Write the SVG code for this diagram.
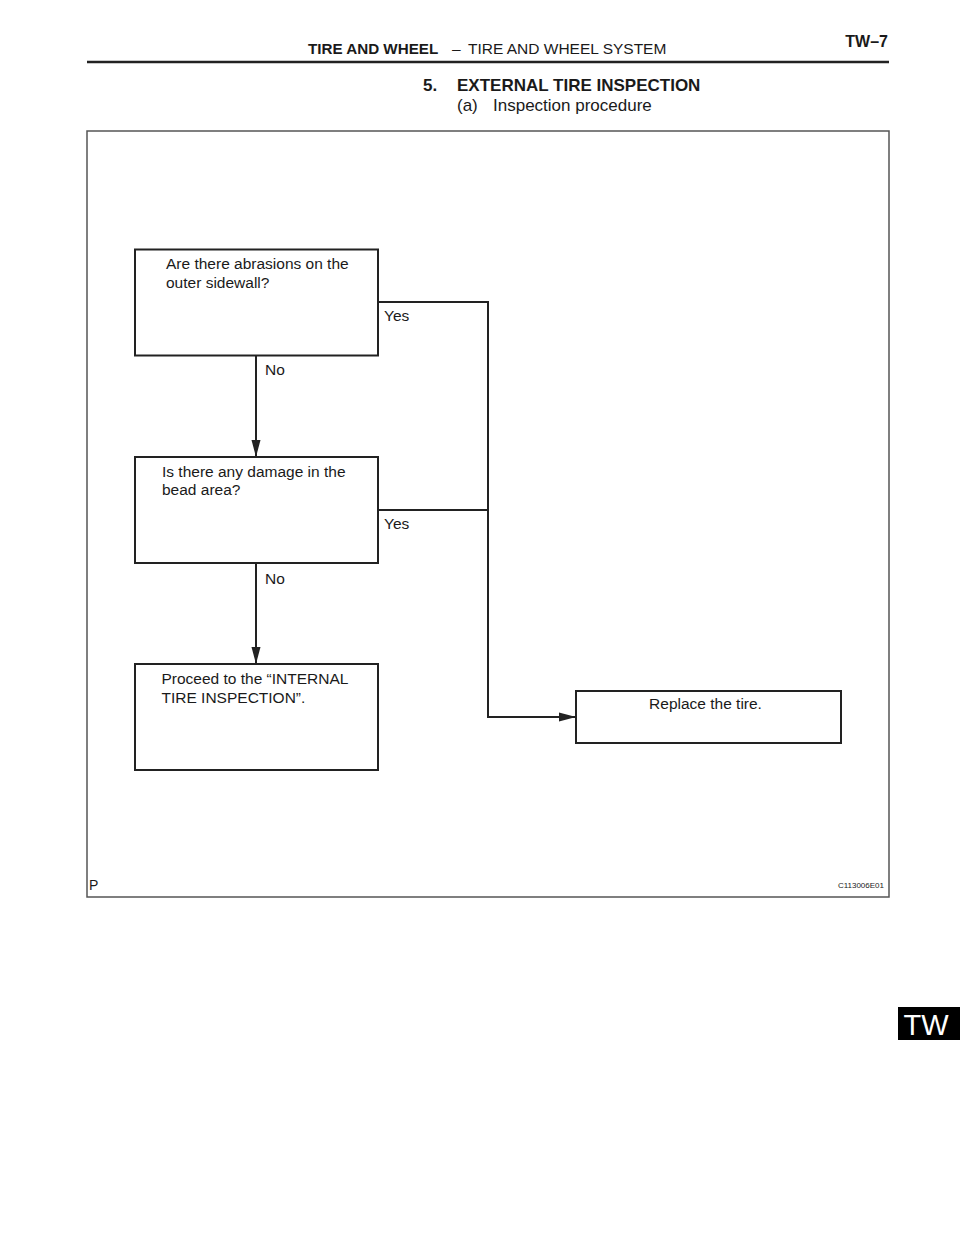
<svg xmlns="http://www.w3.org/2000/svg" width="960" height="1242" viewBox="0 0 960 1242">
<style>
.t{font-family:"Liberation Sans",Arial,sans-serif;fill:#1a1a1a}
.b{font-weight:bold}
.box{fill:#fff;stroke:#222;stroke-width:2}
.lbl{font-size:15.5px}
.con{fill:none;stroke:#222;stroke-width:2}
</style>
<defs>
<marker id="arr" markerUnits="userSpaceOnUse" markerWidth="17" markerHeight="10" refX="17" refY="5" orient="auto">
<path d="M0,0.5 L17,5 L0,9.5 z" fill="#222"/>
</marker>
</defs>
<rect width="960" height="1242" fill="#fff"/>
<g id="header">
<text class="t b" x="308" y="54" font-size="15.2">TIRE AND WHEEL</text>
<text class="t" x="452" y="54" font-size="15.5">–</text>
<text class="t" x="468" y="54" font-size="15.5">TIRE AND WHEEL SYSTEM</text>
<text class="t b" x="888" y="47" font-size="16" text-anchor="end">TW–7</text>
<line x1="87" y1="62" x2="889" y2="62" stroke="#222" stroke-width="2.5"/>
<text class="t b" x="423" y="91" font-size="17">5.</text>
<text class="t b" x="457" y="91" font-size="17">EXTERNAL TIRE INSPECTION</text>
<text class="t" x="457" y="111" font-size="17">(a)</text>
<text class="t" x="493" y="111" font-size="17">Inspection procedure</text>
</g>
<g id="frame">
<rect x="87" y="131" width="802" height="766" fill="none" stroke="#555" stroke-width="1.5"/>
<text class="t" x="89" y="890" font-size="14">P</text>
<text class="t" x="884" y="888" font-size="8" text-anchor="end">C113006E01</text>
</g>
<g id="connectors">
<path class="con" d="M256 356 V457" marker-end="url(#arr)"/>
<path class="con" d="M256 563 V664" marker-end="url(#arr)"/>
<path class="con" d="M378 302 H488 V717 H576" marker-end="url(#arr)"/>
<path class="con" d="M378 510 H488"/>
<text class="t lbl" x="384" y="321">Yes</text>
<text class="t lbl" x="265" y="375">No</text>
<text class="t lbl" x="384" y="529">Yes</text>
<text class="t lbl" x="265" y="584">No</text>
</g>
<g id="node-abrasions">
<rect class="box" x="135" y="249.5" width="243" height="106"/>
<text class="t lbl" x="166" y="269">Are there abrasions on the</text>
<text class="t lbl" x="166" y="288">outer sidewall?</text>
</g>
<g id="node-bead">
<rect class="box" x="135" y="457" width="243" height="106"/>
<text class="t lbl" x="162" y="476.5">Is there any damage in the</text>
<text class="t lbl" x="162" y="495">bead area?</text>
</g>
<g id="node-internal">
<rect class="box" x="135" y="664" width="243" height="106"/>
<text class="t lbl" x="161.5" y="684">Proceed to the “INTERNAL</text>
<text class="t lbl" x="161.5" y="703">TIRE INSPECTION”.</text>
</g>
<g id="node-replace">
<rect class="box" x="576" y="691" width="265" height="52"/>
<text class="t lbl" x="705.5" y="708.5" text-anchor="middle">Replace the tire.</text>
</g>
<g id="tab">
<rect x="898" y="1007" width="62" height="33" fill="#000"/>
<text x="926" y="1035" font-family="Liberation Sans,Arial,sans-serif" font-size="29" fill="#fff" text-anchor="middle">TW</text>
</g>
</svg>
